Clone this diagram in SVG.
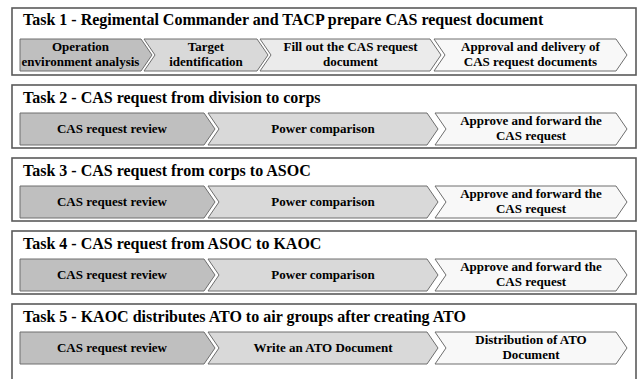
<svg xmlns="http://www.w3.org/2000/svg" width="639" height="379" viewBox="0 0 639 379">
  <style>
    .frame { fill: #ffffff; stroke: #5a5a5a; stroke-width: 1.6; }
    .title { font-family: "Liberation Serif", "Times New Roman", serif; font-weight: bold; font-size: 16px; fill: #000000; }
    .step  { stroke: #6e6e6e; stroke-width: 1; }
    .s1 { fill: #bfbfbf; }
    .s2 { fill: #d9d9d9; }
    .s3 { fill: #ebebeb; }
    .s4 { fill: #f8f8f8; }
    .label { font-family: "Liberation Serif", "Times New Roman", serif; font-weight: bold; font-size: 13px; fill: #000000; text-anchor: middle; }
  </style>
  <rect x="0" y="0" width="639" height="379" fill="#ffffff"/>

  <!-- Task 1: four steps -->
  <g id="task1">
    <rect class="frame" x="12" y="8" width="624" height="67"/>
    <text class="title" x="23" y="25">Task 1 - Regimental Commander and TACP prepare CAS request document</text>
    <g id="task1-step1">
      <path class="step s1" d="M20,39 H141 L152,55 L141,71 H20 Z"/>
      <text class="label" x="80.5" y="51">Operation</text>
      <text class="label" x="80.5" y="66">environment analysis</text>
    </g>
    <g id="task1-step2">
      <path class="step s2" d="M144,39 H257 L268,55 L257,71 H144 L155,55 Z"/>
      <text class="label" x="206" y="51">Target</text>
      <text class="label" x="206" y="66">identification</text>
    </g>
    <g id="task1-step3">
      <path class="step s3" d="M260,39 H430 L441,55 L430,71 H260 L271,55 Z"/>
      <text class="label" x="350.5" y="51">Fill out the CAS request</text>
      <text class="label" x="350.5" y="66">document</text>
    </g>
    <g id="task1-step4">
      <path class="step s4" d="M434,39 H616 L627,55 L616,71 H434 L445,55 Z"/>
      <text class="label" x="530.5" y="51">Approval and delivery of</text>
      <text class="label" x="530.5" y="66">CAS request documents</text>
    </g>
  </g>

  <!-- Task 2 -->
  <g id="task2">
    <rect class="frame" x="12" y="85" width="624" height="63"/>
    <text class="title" x="23" y="103">Task 2 - CAS request from division to corps</text>
    <g id="task2-step1">
      <path class="step s1" d="M20,113 H204 L215,129 L204,145 H20 Z"/>
      <text class="label" x="112" y="133">CAS request review</text>
    </g>
    <g id="task2-step2">
      <path class="step s2" d="M208,113 H427 L438,129 L427,145 H208 L219,129 Z"/>
      <text class="label" x="323" y="133">Power comparison</text>
    </g>
    <g id="task2-step3">
      <path class="step s4" d="M435,113 H616 L627,129 L616,145 H435 L446,129 Z"/>
      <text class="label" x="531" y="125">Approve and forward the</text>
      <text class="label" x="531" y="140">CAS request</text>
    </g>
  </g>

  <!-- Task 3 -->
  <g id="task3" transform="translate(0,73)">
    <rect class="frame" x="12" y="85" width="624" height="63"/>
    <text class="title" x="23" y="103">Task 3 - CAS request from corps to ASOC</text>
    <g id="task3-step1">
      <path class="step s1" d="M20,113 H204 L215,129 L204,145 H20 Z"/>
      <text class="label" x="112" y="133">CAS request review</text>
    </g>
    <g id="task3-step2">
      <path class="step s2" d="M208,113 H427 L438,129 L427,145 H208 L219,129 Z"/>
      <text class="label" x="323" y="133">Power comparison</text>
    </g>
    <g id="task3-step3">
      <path class="step s4" d="M435,113 H616 L627,129 L616,145 H435 L446,129 Z"/>
      <text class="label" x="531" y="125">Approve and forward the</text>
      <text class="label" x="531" y="140">CAS request</text>
    </g>
  </g>

  <!-- Task 4 -->
  <g id="task4" transform="translate(0,146)">
    <rect class="frame" x="12" y="85" width="624" height="63"/>
    <text class="title" x="23" y="103">Task 4 - CAS request from ASOC to KAOC</text>
    <g id="task4-step1">
      <path class="step s1" d="M20,113 H204 L215,129 L204,145 H20 Z"/>
      <text class="label" x="112" y="133">CAS request review</text>
    </g>
    <g id="task4-step2">
      <path class="step s2" d="M208,113 H427 L438,129 L427,145 H208 L219,129 Z"/>
      <text class="label" x="323" y="133">Power comparison</text>
    </g>
    <g id="task4-step3">
      <path class="step s4" d="M435,113 H616 L627,129 L616,145 H435 L446,129 Z"/>
      <text class="label" x="531" y="125">Approve and forward the</text>
      <text class="label" x="531" y="140">CAS request</text>
    </g>
  </g>

  <!-- Task 5 (frame runs past the lower edge) -->
  <g id="task5" transform="translate(0,219)">
    <rect class="frame" x="12" y="85" width="624" height="80"/>
    <text class="title" x="23" y="103">Task 5 - KAOC distributes ATO to air groups after creating ATO</text>
    <g id="task5-step1">
      <path class="step s1" d="M20,113 H204 L215,129 L204,145 H20 Z"/>
      <text class="label" x="112" y="133">CAS request review</text>
    </g>
    <g id="task5-step2">
      <path class="step s2" d="M208,113 H427 L438,129 L427,145 H208 L219,129 Z"/>
      <text class="label" x="323" y="133">Write an ATO Document</text>
    </g>
    <g id="task5-step3">
      <path class="step s4" d="M435,113 H616 L627,129 L616,145 H435 L446,129 Z"/>
      <text class="label" x="531" y="125">Distribution of ATO</text>
      <text class="label" x="531" y="140">Document</text>
    </g>
  </g>
</svg>
